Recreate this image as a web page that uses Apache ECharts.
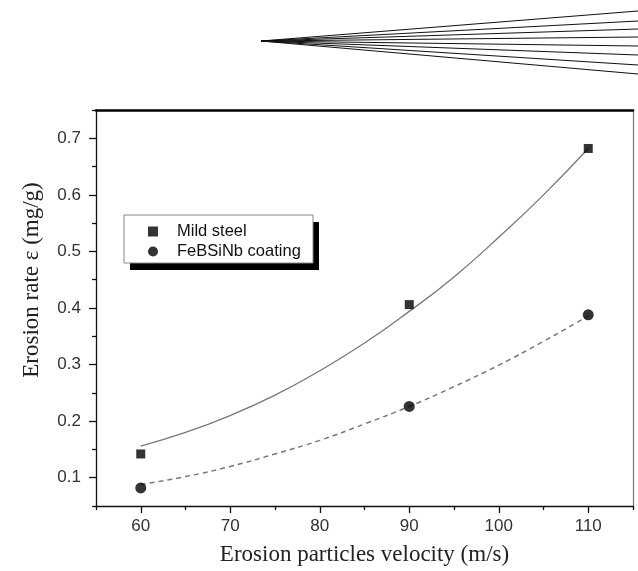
<!DOCTYPE html>
<html>
<head>
<meta charset="utf-8">
<title>Erosion rate vs velocity</title>
<script src="https://cdn.jsdelivr.net/npm/echarts@6/dist/echarts.min.js"></script>
<style>
  html, body { margin: 0; padding: 0; background: #fff; }
  #chart { width: 638px; height: 571px; }
</style>
</head>
<body>
<div id="chart"></div>
<script>
// measured points
const velocity = [60, 90, 110];
const mildSteel = [0.142, 0.406, 0.682];
const coating = [0.082, 0.226, 0.388];

// fitted curves
const fitVelocity = [60, 65, 70, 75, 80, 85, 90, 95, 100, 105, 110];
const mildFit = [0.156, 0.180, 0.210, 0.246, 0.289, 0.338, 0.394, 0.455, 0.525, 0.600, 0.682];
const coatingFit = [0.088, 0.102, 0.120, 0.142, 0.166, 0.195, 0.226, 0.261, 0.299, 0.341, 0.386];

// tick labels
const xTicks = [60, 70, 80, 90, 100, 110];
const xMinorTicks = [55, 65, 75, 85, 95, 105, 115];
const yTicks = [0.1, 0.2, 0.3, 0.4, 0.5, 0.6, 0.7];
const yMinorTicks = [0.05, 0.15, 0.25, 0.35, 0.45, 0.55, 0.65, 0.75];

const pairs = (xs, ys) => xs.map((x, i) => [x, ys[i]]);

const chart = echarts.init(document.getElementById('chart'));

const labelFont = {color: '#333', fontSize: 17, fontFamily: 'Liberation Sans, Arial'};
const nameFont = {color: '#222', fontSize: 23, fontFamily: 'Liberation Serif, Times New Roman'};

// the fan of lines above the plot (scan artefact in the source)
const fanEnds = [11, 21, 29, 37, 46, 55, 65, 74];
const graphics = fanEnds.map(y => ({
  type: 'line',
  shape: {x1: 261, y1: 41, x2: 638, y2: y},
  style: {stroke: '#111', lineWidth: 1.1}
}));
// legend frame with its hard black drop shadow
graphics.push({
  type: 'rect', z: 1,
  shape: {x: 130, y: 222, width: 189, height: 48},
  style: {fill: '#000'}
});
graphics.push({
  type: 'rect', z: 2,
  shape: {x: 124, y: 215, width: 189, height: 48},
  style: {fill: '#fff', stroke: '#888', lineWidth: 1}
});

const option = {
  animation: false,
  backgroundColor: '#fff',
  grid: {left: 96, right: 5, top: 110, bottom: 63, containLabel: false},
  graphic: graphics,
  legend: {
    data: [
      {name: 'Mild steel', icon: 'rect'},
      {name: 'FeBSiNb coating', icon: 'circle'}
    ],
    orient: 'vertical',
    left: 124,
    top: 215,
    z: 10,
    itemWidth: 10,
    itemHeight: 10,
    itemGap: 3,
    padding: [8, 8, 4, 24],
    textStyle: {color: '#111', fontSize: 16.5, fontFamily: 'Liberation Sans, Arial', padding: [0, 0, 0, 14]}
  },
  xAxis: [{
    // main bottom axis
    type: 'value', position: 'bottom', min: 55, max: 115,
    name: 'Erosion particles velocity (m/s)',
    nameLocation: 'middle', nameGap: 37, nameTextStyle: nameFont,
    axisLine: {show: true, lineStyle: {color: '#111', width: 1.3}},
    axisTick: {show: true, customValues: xTicks, length: 7, lineStyle: {color: '#111', width: 1.3}},
    axisLabel: {customValues: xTicks, margin: 12, ...labelFont},
    splitLine: {show: false}
  }, {
    // minor ticks
    type: 'value', position: 'bottom', min: 55, max: 115,
    axisLine: {show: false},
    axisTick: {show: true, customValues: xMinorTicks, length: 4, lineStyle: {color: '#111', width: 1.3}},
    axisLabel: {show: false},
    splitLine: {show: false}
  }, {
    // top frame
    type: 'value', position: 'top', min: 55, max: 115,
    axisLine: {show: true, lineStyle: {color: '#000', width: 2.5}},
    axisTick: {show: false}, axisLabel: {show: false}, splitLine: {show: false}
  }],
  yAxis: [{
    type: 'value', position: 'left', min: 0.05, max: 0.75,
    name: 'Erosion rate ε (mg/g)',
    nameLocation: 'middle', nameGap: 53,
    nameTextStyle: {...nameFont, padding: [0, 0, 0, 56]},
    axisLine: {show: true, lineStyle: {color: '#111', width: 1.3}},
    axisTick: {show: true, customValues: yTicks, length: 7, lineStyle: {color: '#111', width: 1.3}},
    axisLabel: {customValues: yTicks, margin: 15, formatter: v => v.toFixed(1), ...labelFont},
    splitLine: {show: false}
  }, {
    type: 'value', position: 'left', min: 0.05, max: 0.75,
    axisLine: {show: false},
    axisTick: {show: true, customValues: yMinorTicks, length: 4, lineStyle: {color: '#111', width: 1.3}},
    axisLabel: {show: false},
    splitLine: {show: false}
  }, {
    // right frame
    type: 'value', position: 'right', min: 0.05, max: 0.75,
    axisLine: {show: true, lineStyle: {color: '#777', width: 1.2}},
    axisTick: {show: false}, axisLabel: {show: false}, splitLine: {show: false}
  }],
  series: [{
    name: 'Mild steel fit',
    type: 'line',
    data: pairs(fitVelocity, mildFit),
    smooth: true,
    showSymbol: false,
    lineStyle: {color: '#777', width: 1.3},
    z: 2
  }, {
    name: 'FeBSiNb coating fit',
    type: 'line',
    data: pairs(fitVelocity, coatingFit),
    smooth: true,
    showSymbol: false,
    lineStyle: {color: '#777', width: 1.5, type: [5, 4]},
    z: 2
  }, {
    name: 'Mild steel',
    type: 'scatter',
    data: pairs(velocity, mildSteel),
    symbol: 'rect',
    symbolSize: 9,
    itemStyle: {color: '#000'},
    z: 3
  }, {
    name: 'FeBSiNb coating',
    type: 'scatter',
    data: pairs(velocity, coating),
    symbol: 'circle',
    symbolSize: 11,
    itemStyle: {color: '#000'},
    z: 3
  }]
};

chart.setOption(option);
</script>
</body>
</html>
